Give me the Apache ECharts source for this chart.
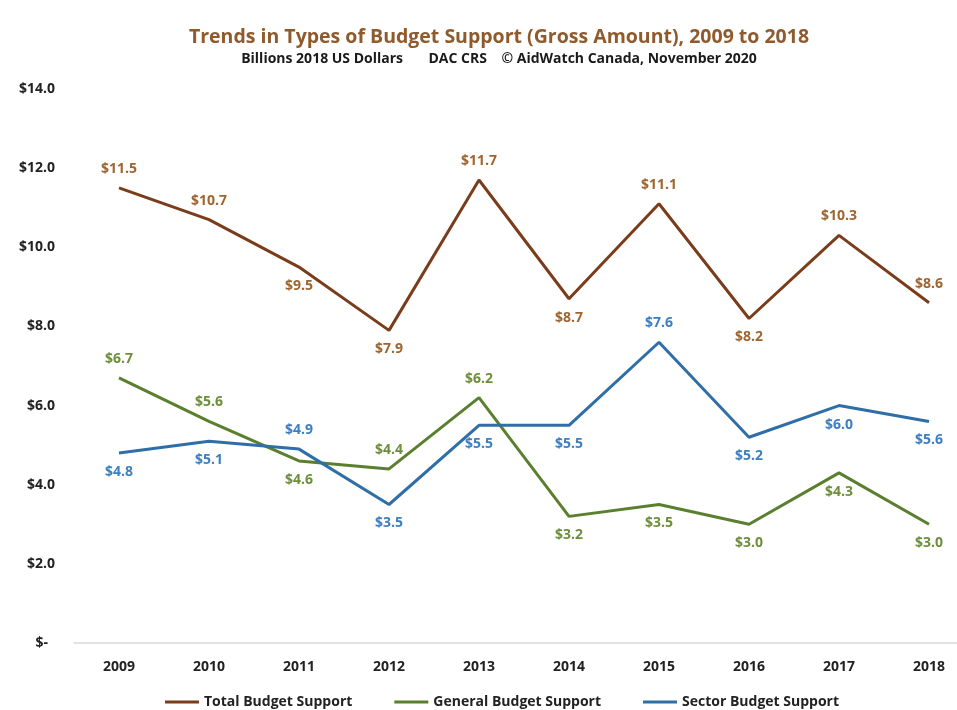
<!DOCTYPE html>
<html>
<head>
<meta charset="utf-8">
<script src="https://cdn.jsdelivr.net/npm/echarts@6/dist/echarts.min.js"></script>
<style>
  html, body { margin: 0; padding: 0; background: #ffffff; }
  #chart { width: 957px; height: 710px; }
</style>
</head>
<body>
<div id="chart"></div>
<script>
// Years on the category axis
const years = ['2009', '2010', '2011', '2012', '2013', '2014', '2015', '2016', '2017', '2018'];

// Billions of 2018 US dollars
const totalSupport   = [11.5, 10.7, 9.5, 7.9, 11.7, 8.7, 11.1, 8.2, 10.3, 8.6];
const generalSupport = [6.7, 5.6, 4.6, 4.4, 6.2, 3.2, 3.5, 3.0, 4.3, 3.0];
const sectorSupport  = [4.8, 5.1, 4.9, 3.5, 5.5, 5.5, 7.6, 5.2, 6.0, 5.6];

// Which side of each point its value label sits on
const totalLabelPos   = ['top', 'top', 'bottom', 'bottom', 'top', 'bottom', 'top', 'bottom', 'top', 'top'];
const generalLabelPos = ['top', 'top', 'bottom', 'top', 'top', 'bottom', 'bottom', 'bottom', 'bottom', 'bottom'];
const sectorLabelPos  = ['bottom', 'bottom', 'top', 'bottom', 'bottom', 'bottom', 'top', 'bottom', 'bottom', 'bottom'];

const FONT = '"Open Sans", Lato, sans-serif';

// Accounting-style currency: zero shows as a dash
function money(v) {
  return v === 0 ? '$-\u2002' : '$' + v.toFixed(1);
}

function withLabels(values, positions) {
  return values.map((v, i) => ({
    value: v,
    label: { position: positions[i] }
  }));
}

function lineSeries(name, values, positions, lineColor, labelColor) {
  return {
    name: name,
    type: 'line',
    data: withLabels(values, positions),
    symbol: 'circle',
    symbolSize: 0,
    showSymbol: true,
    lineStyle: { width: 3, color: lineColor },
    itemStyle: { color: lineColor },
    label: {
      show: true,
      distance: 12,
      color: labelColor,
      fontFamily: FONT,
      fontWeight: 'bold',
      fontSize: 14,
      formatter: p => money(p.value)
    },
    z: 3
  };
}

const chart = echarts.init(document.getElementById('chart'));
chart.setOption({
  backgroundColor: '#ffffff',
  animation: false,
  title: {
    text: 'Trends in Types of Budget Support (Gross Amount), 2009 to 2018',
    subtext: 'Billions 2018 US Dollars       DAC CRS    \u00A9 AidWatch Canada, November 2020',
    left: 494,
    textAlign: 'center',
    top: 22,
    itemGap: 5,
    textStyle: {
      fontFamily: FONT,
      fontWeight: 'bold',
      fontSize: 19.5,
      color: '#8f5a2c'
    },
    subtextStyle: {
      fontFamily: FONT,
      fontWeight: 'bold',
      fontSize: 14,
      color: '#1a1a1a'
    }
  },
  legend: {
    top: 690,
    left: 160,
    itemGap: 42,
    itemWidth: 34,
    itemHeight: 3,
    icon: 'rect',
    textStyle: {
      fontFamily: FONT,
      fontWeight: 'bold',
      fontSize: 14,
      color: '#222222'
    },
    data: ['Total Budget Support', 'General Budget Support', 'Sector Budget Support']
  },
  grid: {
    left: 74,
    width: 900,
    top: 89,
    bottom: 67,
    outerBoundsMode: 'none',
    containLabel: false
  },
  xAxis: {
    type: 'category',
    data: years,
    boundaryGap: true,
    axisLine: { lineStyle: { color: '#d9d9d9', width: 1.5 } },
    axisTick: { show: false },
    axisLabel: {
      margin: 17,
      fontFamily: FONT,
      fontWeight: 'bold',
      fontSize: 14,
      color: '#222222'
    }
  },
  yAxis: {
    type: 'value',
    min: 0,
    max: 14,
    interval: 2,
    splitLine: { show: false },
    axisLine: { show: false },
    axisTick: { show: false },
    axisLabel: {
      margin: 19,
      fontFamily: FONT,
      fontWeight: 'bold',
      fontSize: 14,
      color: '#222222',
      formatter: v => money(v)
    }
  },
  series: [
    lineSeries('Total Budget Support', totalSupport, totalLabelPos, '#7a3d1c', '#a0652f'),
    lineSeries('General Budget Support', generalSupport, generalLabelPos, '#5a7f2e', '#6d8f3c'),
    lineSeries('Sector Budget Support', sectorSupport, sectorLabelPos, '#2f6ea6', '#3d7fc0')
  ]
});
</script>
</body>
</html>
